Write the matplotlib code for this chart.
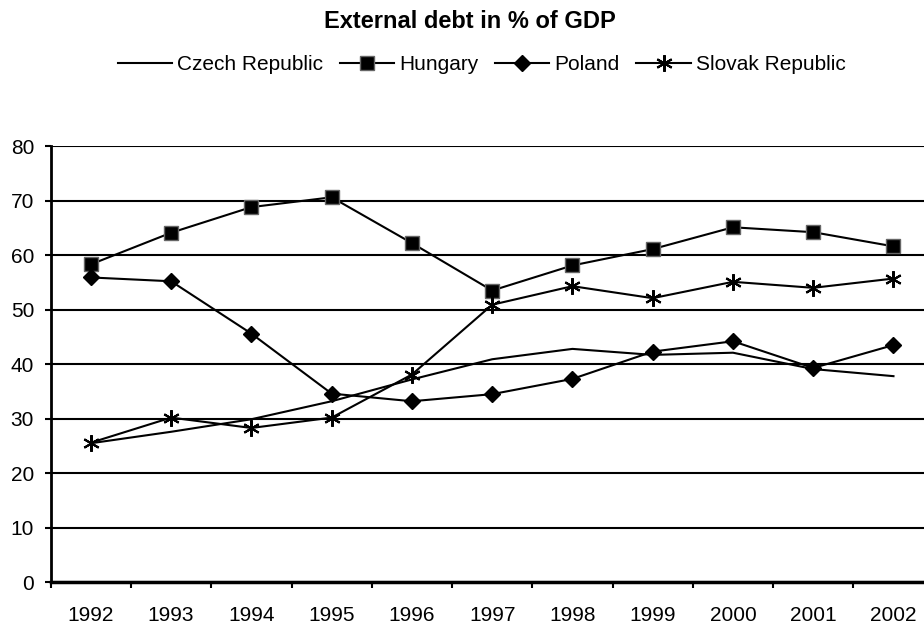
import matplotlib
matplotlib.use("Agg")
import matplotlib.pyplot as plt
import matplotlib.ticker as ticker

years = ["1992", "1993", "1994", "1995", "1996", "1997", "1998", "1999", "2000", "2001", "2002"]
czech = [25.5, 27.6, 29.9, 33.2, 37.2, 40.9, 42.8, 41.7, 42.1, 39.1, 37.8]
hungary = [58.3, 64.1, 68.8, 70.6, 62.2, 53.5, 58.1, 61.1, 65.1, 64.2, 61.6]
poland = [55.9, 55.2, 45.6, 34.6, 33.2, 34.5, 37.3, 42.3, 44.2, 39.3, 43.5]
slovak = [25.6, 30.2, 28.3, 30.2, 38.1, 50.9, 54.3, 52.1, 55.1, 54.0, 55.7]

plt.rcParams['font.family'] = ['Liberation Sans', 'DejaVu Sans']

fig = plt.figure(figsize=(9.24, 6.27), dpi=100)
ax = fig.add_axes([0.0549, 0.0713, 0.9555, 0.6958])

x = range(len(years))
ax.plot(x, czech, color='black', lw=1.5, label="Czech Republic")
ax.plot(x, hungary, color='black', lw=1.5, marker='s', ms=9.5, mfc='black', mec='#666666', mew=1,
        label="Hungary")
ax.plot(x, poland, color='black', lw=1.5, marker='D', ms=8.5, mfc='black', mec='black',
        label="Poland")
ax.plot(x, slovak, color='black', lw=1.5, marker=(6, 2, 0), ms=12, mec='black', mew=1.5,
        label="Slovak Republic")

ax.set_xlim(-0.5, len(years) - 0.5)
ax.set_ylim(0, 80)
ax.yaxis.set_major_locator(ticker.MultipleLocator(10))
ax.grid(axis='y', color='black', lw=1.5)
ax.set_axisbelow(True)

ax.set_xticks(list(x))
ax.set_xticklabels(years)
ax.xaxis.set_minor_locator(ticker.FixedLocator([i - 0.5 for i in range(len(years) + 1)]))
ax.tick_params(axis='x', which='major', length=0, pad=17, labelsize=15)
ax.tick_params(axis='x', which='minor', length=4.5, width=1.5, direction='out')
ax.tick_params(axis='y', length=4.5, width=1.5, pad=7.5, labelsize=15)

ax.spines['top'].set_visible(False)
ax.spines['right'].set_visible(False)
ax.spines['left'].set_linewidth(2)
ax.spines['bottom'].set_linewidth(2.5)

fig.text(470 / 924, 1 - 22 / 627, "External debt in % of GDP", ha='center', va='center',
         fontsize=17, fontweight='bold')
fig.legend(loc='center', bbox_to_anchor=(481.7 / 924, 1 - 65 / 627), ncol=4, frameon=False,
           fontsize=15, handlelength=2.6, handletextpad=0.25, columnspacing=0.8)

fig.savefig("out.png", dpi=100)
